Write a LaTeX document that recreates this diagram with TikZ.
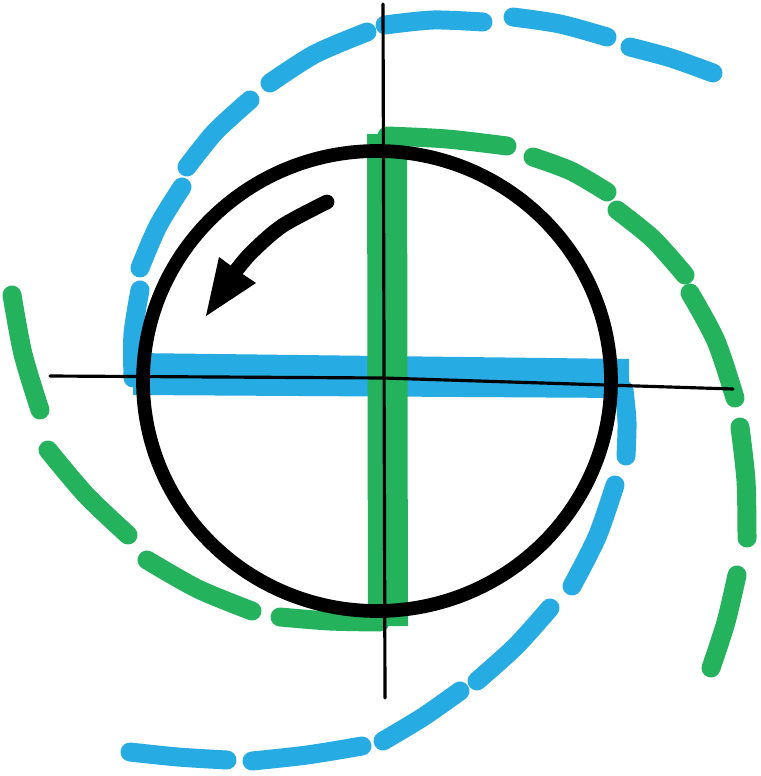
\documentclass[tikz,border=0pt]{standalone}
\usetikzlibrary{calc}
\definecolor{mblue}{RGB}{38,171,226}
\definecolor{mgreen}{RGB}{36,178,92}
\tikzset{
  bdash/.style={draw=mblue, line width=5.4pt, line cap=round},
  gdash/.style={draw=mgreen, line width=5.4pt, line cap=round},
  axisline/.style={draw=black, line width=0.9pt, line cap=round},
  ring/.style={draw=black, line width=3.9pt},
  shaft/.style={draw=black, line width=4.2pt, line cap=round}
}
\begin{document}
\begin{tikzpicture}[x=0.01cm,y=-0.01cm]
\useasboundingbox (0,0) rectangle (760,776);
% bars
\fill[mblue] (133,353) -- (629,359) -- (629,398) -- (133,395) -- cycle;
\fill[mgreen] (367,134) -- (407,134) -- (408,626) -- (368,626) -- cycle;
% blue spiral from left end of bar, going up and over the top
\draw[bdash] plot[smooth] coordinates {(133,378) (133,334) (140,290)};
\draw[bdash] plot[smooth] coordinates {(140,268) (158,226) (182,187)};
\draw[bdash] plot[smooth] coordinates {(187,167) (215,132) (250,100)};
\draw[bdash] plot[smooth] coordinates {(270,83) (315,54) (367,32)};
\draw[bdash] plot[smooth] coordinates {(385,25) (433,20) (483,22)};
\draw[bdash] plot[smooth] coordinates {(513,17) (560,24) (607,37)};
\draw[bdash] plot[smooth] coordinates {(630,47) (671,58) (713,73)};
% blue spiral from right end of bar, going down and under the bottom
\draw[bdash] plot[smooth] coordinates {(624,390) (627,422) (626,456)};
\draw[bdash] plot[smooth] coordinates {(615,485) (597,537) (572,586)};
\draw[bdash] plot[smooth] coordinates {(550,608) (516,646) (477,681)};
\draw[bdash] plot[smooth] coordinates {(460,691) (423,717) (383,741)};
\draw[bdash] plot[smooth] coordinates {(362,746) (307,755) (252,761)};
\draw[bdash] plot[smooth] coordinates {(227,760) (178,757) (130,752)};
% green spiral from top end of bar, going right and down
\draw[gdash] plot[smooth] coordinates {(387,136) (447,139) (507,146)};
\draw[gdash] plot[smooth] coordinates {(533,157) (571,171) (607,192)};
\draw[gdash] plot[smooth] coordinates {(617,210) (653,239) (685,275)};
\draw[gdash] plot[smooth] coordinates {(690,293) (716,341) (735,398)};
\draw[gdash] plot[smooth] coordinates {(740,427) (746,481) (747,538)};
\draw[gdash] plot[smooth] coordinates {(737,575) (726,622) (711,668)};
% green spiral from bottom end of bar, going left and up
\draw[gdash] plot[smooth] coordinates {(380,622) (330,621) (280,617)};
\draw[gdash] plot[smooth] coordinates {(252,611) (198,589) (147,560)};
\draw[gdash] plot[smooth] coordinates {(128,535) (86,495) (48,450)};
\draw[gdash] plot[smooth] coordinates {(40,410) (23,354) (12,295)};
% black circle
\draw[ring] (377,381) ellipse [x radius=234, y radius=230];
% axes
\draw[axisline] (50,376) -- (383,378) -- (733,389);
\draw[axisline] (383,4) -- (385,698);
% curved arrow
\draw[shaft] plot[smooth] coordinates {(327,202) (282,226) (250,254) (232,276)};
\fill[black] (206,316) -- (219,257) -- (238,271) -- (256,283) -- cycle;
\end{tikzpicture}
\end{document}
